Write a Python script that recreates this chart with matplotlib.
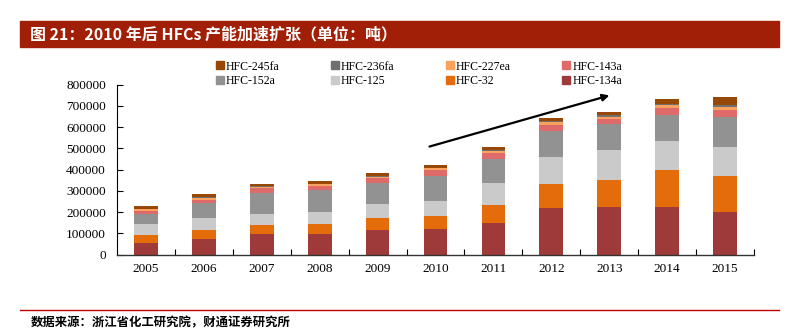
import matplotlib
matplotlib.use("Agg")
import matplotlib.pyplot as plt
import numpy as np
from matplotlib.patches import Rectangle
from matplotlib.lines import Line2D

plt.rcParams['font.family'] = ['Liberation Serif', 'Noto Sans CJK SC', 'DejaVu Sans']

# production capacity by refrigerant, tonnes
years = ['2005', '2006', '2007', '2008', '2009', '2010', '2011', '2012', '2013', '2014', '2015']
hfc_134a  = [52000, 73000, 98000, 96000, 113500, 120000, 149000, 217000, 223000, 222000, 199000]
hfc_32    = [39500, 42000, 39000, 46000, 57500, 62000, 85000, 114000, 127000, 176000, 172000]
hfc_125   = [51500, 55000, 56000, 56000, 67500, 69000, 102000, 130000, 141000, 136000, 135000]
hfc_152a  = [50000, 73000, 97000, 105000, 97500, 119000, 114000, 120000, 125000, 125000, 142000]
hfc_143a  = [12500, 16000, 25000, 20000, 23000, 28000, 28000, 28000, 22000, 30000, 34000]
hfc_227ea = [8000, 9500, 5000, 8000, 8000, 8000, 9000, 14000, 12000, 15000, 13000]
hfc_236fa = [2000, 2500, 3000, 3000, 5000, 3000, 5000, 7000, 6000, 6000, 8000]
hfc_245fa = [12500, 13000, 11000, 12000, 14000, 11000, 13000, 11000, 14000, 22000, 40000]

# bottom to top stacking order
series = [
    ('HFC-134a', hfc_134a, '#9E3A3A'),
    ('HFC-32', hfc_32, '#E46C0A'),
    ('HFC-125', hfc_125, '#CACACA'),
    ('HFC-152a', hfc_152a, '#929292'),
    ('HFC-143a', hfc_143a, '#DE6A6A'),
    ('HFC-227ea', hfc_227ea, '#F8A25E'),
    ('HFC-236fa', hfc_236fa, '#707070'),
    ('HFC-245fa', hfc_245fa, '#974706'),
]

fig = plt.figure(figsize=(8.04, 3.34), dpi=100)

# title banner
fig.patches.append(Rectangle((20 / 804, 1 - 47 / 334), 759 / 804, 26 / 334,
                             transform=fig.transFigure, color='#A11F06', zorder=0))
fig.text(30 / 804, 1 - 34 / 334, '图 21：2010 年后 HFCs 产能加速扩张（单位：吨）',
         color='white', fontsize=11.5, fontweight='bold', va='center', ha='left',
         family=['Noto Sans CJK SC', 'DejaVu Sans'])

ax = fig.add_axes([117 / 804, 1 - 254.5 / 334, 637 / 804, 169.8 / 334])

x = np.arange(len(years))
bottom = np.zeros(len(years))
bars = {}
for name, vals, color in series:
    bars[name] = ax.bar(x, vals, width=0.41, bottom=bottom, color=color,
                        edgecolor='none', label=name)
    bottom += np.array(vals)

ax.set_xlim(-0.5, len(years) - 0.5)
ax.set_ylim(0, 800000)
ax.set_yticks(np.arange(0, 800001, 100000))
ax.set_yticklabels([str(v) for v in range(0, 800001, 100000)])
ax.set_xticks(x)
ax.set_xticklabels(years)
ax.set_xticks(np.arange(0.5, len(years), 1), minor=True)
ax.tick_params(axis='x', which='major', length=0, pad=6, labelsize=9.5)
ax.tick_params(axis='x', which='minor', length=4, direction='in', width=0.8)
ax.tick_params(axis='y', length=4, direction='in', width=0.8, labelsize=9.5, pad=8)
for side in ['top', 'right']:
    ax.spines[side].set_visible(False)
ax.spines['left'].set_linewidth(0.8)
ax.spines['bottom'].set_linewidth(1.0)
ax.spines['bottom'].set_color('#333333')

# growth arrow after 2010
ax.annotate('', xy=(8.05, 753000), xytext=(4.85, 505000),
            arrowprops=dict(arrowstyle='-|>', color='black', lw=1.6,
                            mutation_scale=10))

# legend, filled row by row
order = ['HFC-245fa', 'HFC-152a', 'HFC-236fa', 'HFC-125',
         'HFC-227ea', 'HFC-32', 'HFC-143a', 'HFC-134a']
colors = {n: c for n, _, c in series}
handles = [Rectangle((0, 0), 1, 1, color=colors[n]) for n in order]
fig.legend(handles, order, ncol=4, loc='center left',
           bbox_to_anchor=(210 / 804, 1 - 74 / 334), frameon=False,
           fontsize=8.5, handlelength=0.65, handleheight=0.65, handletextpad=0.2,
           columnspacing=4.35, labelspacing=0.25, borderpad=0)

# source line
fig.add_artist(Line2D([20 / 804, 779 / 804], [1 - 310 / 334, 1 - 310 / 334],
                      transform=fig.transFigure, color='#C00000', lw=1.0))
fig.text(31 / 804, 1 - 323 / 334, '数据来源：浙江省化工研究院，财通证券研究所',
         fontsize=8.9, fontweight='bold', va='center', ha='left',
         family=['Noto Sans CJK SC', 'DejaVu Sans'])

fig.savefig('out.png', dpi=100)
